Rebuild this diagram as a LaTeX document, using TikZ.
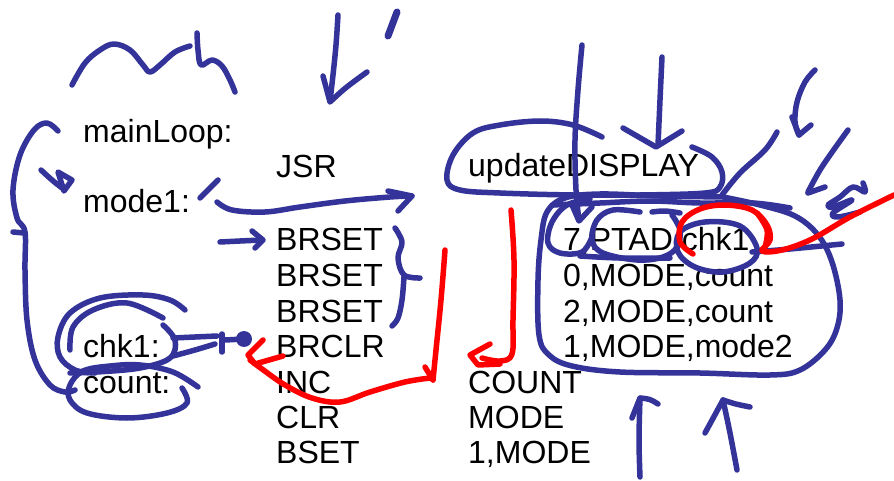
\documentclass[tikz,border=0pt]{standalone}
\usepackage{fontspec}
\setmainfont{Liberation Sans}
\definecolor{penblue}{RGB}{51,51,153}
\definecolor{penred}{RGB}{255,0,0}
\tikzset{
  code/.style={anchor=base west,inner sep=0pt,font=\fontsize{32}{36}\selectfont},
  bl/.style={draw=penblue,line width=5.5pt,line cap=round,line join=round},
  rd/.style={draw=penred,line width=5.5pt,line cap=round,line join=round},
}
\begin{document}
\begin{tikzpicture}[x=1pt,y=-1pt]
\useasboundingbox (0,0) rectangle (894,481);

% assembly listing
\node[code] (lmain)  at (83,143) {mainLoop:};
\node[code] (lmode)  at (83,213) {mode1:};
\node[code] (lchk)   at (83,357) {chk1:};
\node[code] (lcount) at (83,393) {count:};
\node[code] (ojsr)   at (276,178) {JSR};
\node[code] (ob1)    at (276,251) {BRSET};
\node[code] (ob2)    at (276,286) {BRSET};
\node[code] (ob3)    at (276,322) {BRSET};
\node[code] (obc)    at (276,357) {BRCLR};
\node[code] (oinc)   at (276,393) {INC};
\node[code] (oclr)   at (276,428) {CLR};
\node[code] (obset)  at (276,463) {BSET};
\node[code] (aupd)   at (468,177) {updateDISPLAY};
\node[code] (a1)     at (563,251) {7,PTAD,chk1};
\node[code] (a2)     at (563,286) {0,MODE,count};
\node[code] (a3)     at (563,322) {2,MODE,count};
\node[code] (a4)     at (563,357) {1,MODE,mode2};
\node[code] (a5)     at (468,393) {COUNT};
\node[code] (a6)     at (468,428) {MODE};
\node[code] (a7)     at (468,463) {1,MODE};

% --- blue pen strokes, left half ---
\draw[bl] plot[smooth,tension=0.6] coordinates {(72,85) (85,63) (100,50) (114,44) (130,50) (143,65) (150,72) (160,65) (175,52) (190,46)};
\draw[bl] plot[smooth,tension=0.6] coordinates {(197,33) (198,50) (201,65) (212,60) (222,66) (230,80) (235,92)};
\draw[bl] plot[smooth,tension=0.6] coordinates {(338,15) (336,45) (333,75) (330,101)};
\draw[bl] (323,76) -- (330,102) .. controls (345,88) .. (367,72);
\draw[bl,line width=7pt] (397,12) -- (388,36);
\draw[bl] plot[smooth,tension=0.6] coordinates {(58,131) (47,123) (34,130) (20,155) (13,190) (17,218) (25,232) (25,270) (27,320) (35,360) (50,385) (65,392) (75,390)};
\draw[bl] (13,232) -- (24,233);
\draw[bl] plot[smooth,tension=0.6] coordinates {(41,170) (52,180) (62,188)};
\draw[bl] (58,172) -- (72,180) -- (64,191) -- cycle;
\draw[bl] (200,198) -- (218,180);
\draw[bl] plot[smooth,tension=0.6] coordinates {(217,202) (232,210) (265,212) (300,207) (345,201) (390,197) (412,196)};
\draw[bl] (388,191) -- (412,196) -- (398,211);
\draw[bl] plot[smooth,tension=0.6] coordinates {(220,242) (240,241) (262,240)};
\draw[bl] (252,231) -- (263,240) -- (255,248);
\draw[bl] plot[smooth,tension=0.6] coordinates {(395,228) (402,242) (398,258) (404,275) (420,278)};
\draw[bl] plot[smooth,tension=0.6] coordinates {(404,277) (402,300) (398,318) (392,326)};

% loops round chk1: and count:
\draw[bl] plot[smooth,tension=0.6] coordinates {(185,310) (170,300) (143,295) (100,298) (70,313) (58,337) (60,357) (75,370) (95,373)};
\draw[bl] plot[smooth,tension=0.6] coordinates {(163,318) (127,303) (93,310) (73,327) (70,350)};
\draw[bl] plot[smooth,tension=0.6] coordinates {(163,325) (175,340) (170,358) (140,368) (97,372) (70,373)};
\draw[bl] plot[smooth,tension=0.6] coordinates {(198,387) (173,372) (140,365) (110,366) (83,371) (70,385) (70,400) (87,413) (127,418) (167,413) (187,403) (182,388)};
\draw[bl] plot[smooth,tension=0.6] coordinates {(173,338) (195,337) (217,336)};
\draw[bl] plot[smooth,tension=0.6] coordinates {(173,356) (195,350) (215,344)};
\draw[bl] (222,334) -- (222,352);
\draw[bl] (225,340) -- (244,339);
\fill[penblue] (244,339) circle (8);

% --- red branch strokes ---
\draw[rd] plot[smooth,tension=0.6] coordinates {(445,250) (441,300) (436,350) (433,380)};
\draw[rd] (425,367) -- (433,380);
\draw[rd] plot[smooth,tension=0.6] coordinates {(430,378) (405,382) (370,392) (340,402) (312,398) (285,385) (262,369) (250,360)};
\draw[rd] (263,340) -- (248,355) -- (255,364) -- (283,356);
\draw[rd] plot[smooth,tension=0.6] coordinates {(511,210) (514,260) (513,320) (512,354) (500,361) (482,358)};
\draw[rd] (490,344) -- (470,355) -- (478,365) -- (500,364);

% --- blue pen strokes, right half ---
\draw[bl] plot[smooth,tension=0.6] coordinates {(602,137) (573,125) (540,121) (500,125) (473,133) (453,155) (447,180) (460,190) (500,193) (573,195) (640,195) (705,193) (720,187) (722,172) (712,157) (692,147)};
\draw[bl] plot[smooth,tension=0.6] coordinates {(582,45) (578,90) (575,140) (576,190) (579,220)};
\draw[bl] (572,205) -- (579,221) -- (592,207);
\draw[bl] plot[smooth,tension=0.6] coordinates {(662,57) (660,100) (658,145)};
\draw[bl] (623,128) -- (656,147) -- (682,131);
\draw[bl] plot[smooth,tension=0.6] coordinates {(777,132) (765,150) (740,173) (722,195)};
\draw[bl] plot[smooth,tension=0.6] coordinates {(815,70) (805,82) (797,102) (795,122) (799,135)};
\draw[bl] (792,117) -- (799,135) -- (811,125);
\draw[bl] plot[smooth,tension=0.6] coordinates {(848,130) (835,148) (820,170) (808,192)};
\draw[bl] (808,193) -- (825,187);
\draw[bl] plot[smooth,tension=0.6] coordinates {(863,183) (865,192) (853,187) (840,197) (828,205) (833,207) (852,200) (833,213) (838,217) (860,212)};
\draw[bl] plot[smooth,tension=0.6] coordinates {(723,197) (760,205) (795,216) (818,235) (832,262) (840,300) (837,328) (825,350) (800,370) (770,375) (700,373) (620,372) (572,366) (549,355) (539,335) (538,280) (541,240) (547,212) (565,198) (600,194) (660,196) (723,197)};
\draw[bl] plot[smooth,tension=0.6] coordinates {(552,205) (600,203) (650,201) (700,203) (753,203) (790,208)};
\draw[bl] plot[smooth,tension=0.6] coordinates {(590,199) (567,205) (552,222) (548,243) (560,253) (582,252) (592,237)};
\draw[bl] plot[smooth,tension=0.6] coordinates {(640,212) (613,210) (597,220) (592,240) (603,253) (637,260) (663,257) (677,247) (680,230) (672,215)};
\draw[bl] plot[smooth,tension=0.6] coordinates {(580,256) (620,258) (670,258)};
\draw[bl] plot[smooth,tension=0.6] coordinates {(652,212) (665,211) (680,213)};
\draw[bl] plot[smooth cycle,tension=0.6] coordinates {(680,232) (678,252) (695,267) (723,272) (750,263) (757,248) (740,226) (705,222)};
\draw[bl] plot[smooth,tension=0.6] coordinates {(752,252) (790,249) (842,244)};
\draw[bl] plot[smooth,tension=0.6] coordinates {(640,477) (639,440) (640,398)};
\draw[bl] (632,418) -- (640,398) .. controls (650,399) .. (658,404);
\draw[bl] plot[smooth,tension=0.6] coordinates {(737,470) (730,433) (723,400)};
\draw[bl] (705,433) -- (723,400) .. controls (735,404) .. (750,407);

% red ring round chk1 and its tail
\draw[rd] plot[smooth,tension=0.6] coordinates {(693,254) (680,242) (682,222) (700,209) (725,205) (752,210) (767,225) (770,240) (762,251) (782,250) (812,239) (850,217) (894,195)};
\draw[rd] plot[smooth,tension=0.6] coordinates {(757,213) (767,230) (765,247)};
\end{tikzpicture}
\end{document}
